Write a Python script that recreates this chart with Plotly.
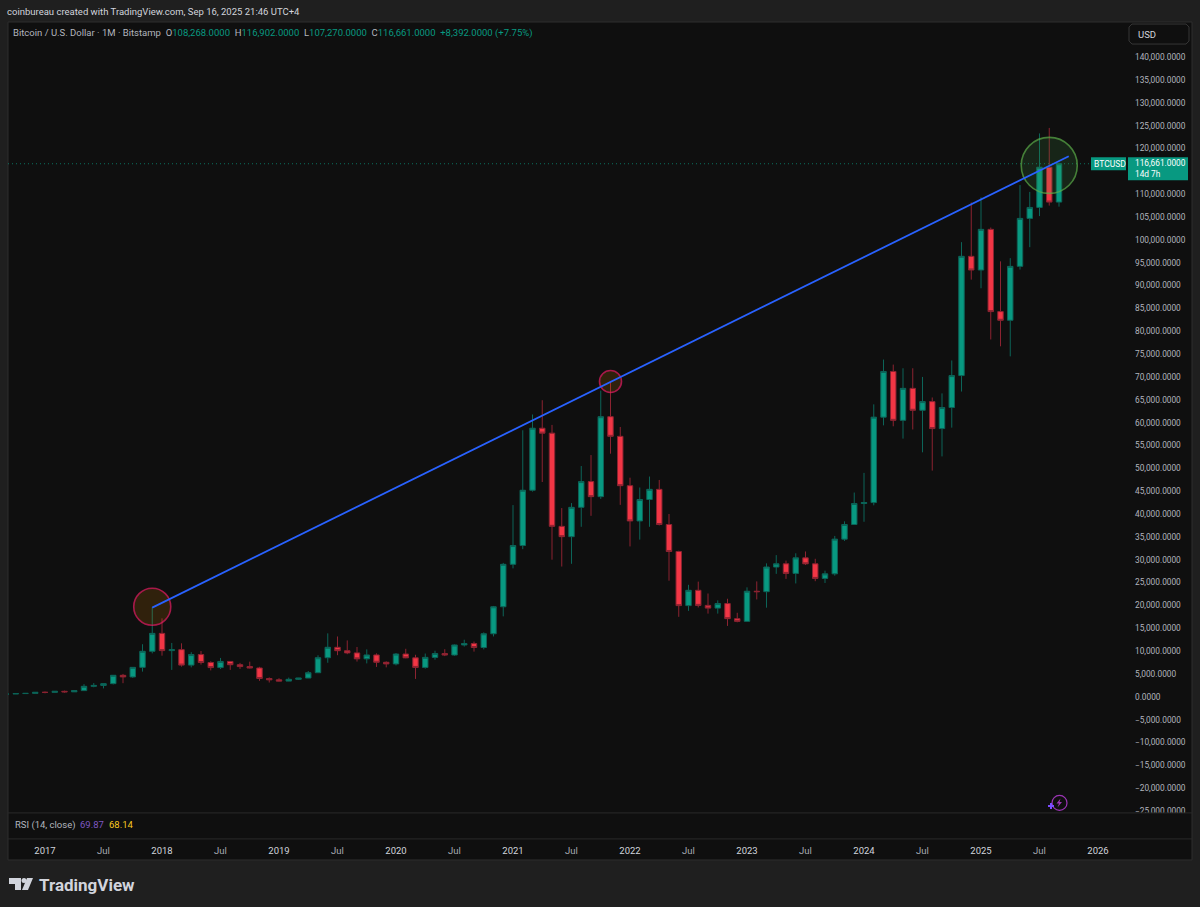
import plotly.graph_objects as go

# monthly candles, Sep 2016 .. Sep 2025
months = list(range(-4, 105))

opens = [572, 610, 700, 745, 966, 965, 1190, 1079, 1348, 2286, 2480, 2875, 4700, 4340, 6440, 9950,
         13880, 10100, 10310, 6925, 9240, 7500, 6390, 7730, 7010, 6610, 6300, 4000,
         3700, 3430, 3820, 4100, 5260, 8550, 10830, 10080, 9600, 8300, 9150, 7550,
         7190, 9350, 8520, 6420, 8620, 9450, 9140, 11340, 11650, 10780, 13790, 19700,
         28990, 33100, 45200, 58780, 57700, 37300, 35040, 41460, 47100, 43800, 61300, 57000,
         46200, 38480, 43170, 45400, 37700, 31800, 19950, 23300, 20000, 19400, 20400, 17100,
         16500, 23100, 23000, 28400, 29100, 27000, 30400, 29100, 25900, 26900, 34500, 37700,
         42300, 42500, 61200, 71200, 60500, 67500, 62700, 64600, 58700, 63300, 70300,
         96400, 93400, 102300, 84300, 82400, 94200, 104700, 107100, 115900, 108268]
highs = [620, 735, 755, 975, 1150, 1215, 1350, 1350, 2760, 3000, 2910, 4480, 5000, 6470, 11500, 19666,
         17170, 11780, 11700, 9760, 10020, 7770, 8500, 7750, 7410, 7680, 6550, 4230,
         4070, 4200, 4130, 5640, 9080, 13880, 13200, 12330, 10900, 10370, 9500, 7750,
         9580, 10500, 9190, 9460, 10080, 10400, 11450, 12480, 12080, 14100, 19880, 29300,
         41950, 58330, 61780, 64900, 59500, 41300, 42400, 50500, 52900, 67000, 69000, 59050,
         47950, 45800, 48200, 47450, 40000, 31970, 24500, 25200, 22600, 21100, 21450, 18380,
         23950, 25250, 29200, 31000, 29800, 31400, 31800, 30200, 27600, 35200, 38400, 44700,
         49000, 64000, 73800, 72700, 71900, 71900, 70000, 65500, 66400, 73600, 99500,
         108200, 109300, 102700, 95300, 96000, 112000, 110500, 123300, 124500, 116902]
lows = [570, 606, 680, 740, 752, 920, 891, 1060, 1348, 2076, 1830, 2700, 2970, 4110, 5500, 9500,
        9000, 5880, 6600, 6430, 7040, 5770, 6070, 5880, 6100, 6200, 3480, 3120,
        3350, 3400, 3670, 4100, 5340, 7440, 9100, 9320, 7710, 7300, 6530, 6430,
        6860, 8430, 3900, 6150, 8110, 8900, 8980, 10980, 9880, 10370, 13200, 17600,
        28100, 32300, 44900, 47000, 30000, 28500, 29100, 37200, 39600, 43300, 53200, 42000,
        32900, 34400, 37200, 37500, 25400, 17500, 18800, 19550, 18200, 18200, 15500, 16300,
        16400, 21300, 19500, 26900, 25800, 24800, 28850, 25300, 24900, 26500, 34100, 37600,
        38300, 41900, 59400, 59200, 56500, 58500, 53500, 49500, 52600, 58900, 66800,
        91300, 89400, 78200, 76700, 74500, 93500, 98400, 105200, 107500, 107270]
closes = [610, 700, 745, 966, 965, 1190, 1079, 1348, 2286, 2480, 2875, 4700, 4340, 6440, 9950, 13880,
          10100, 10310, 6925, 9240, 7500, 6390, 7730, 7010, 6610, 6300, 4000, 3700,
          3430, 3820, 4100, 5260, 8550, 10830, 10080, 9600, 8300, 9150, 7550, 7190,
          9350, 8520, 6420, 8620, 9450, 9140, 11340, 11650, 10780, 13790, 19700, 28990,
          33100, 45200, 58780, 57700, 37300, 35040, 41460, 47100, 43800, 61300, 57000, 46200,
          38480, 43170, 45400, 37700, 31800, 19950, 23300, 20000, 19400, 20400, 17100, 16500,
          23100, 23000, 28400, 29100, 27000, 30400, 29100, 25900, 26900, 34500, 37700, 42300,
          42500, 61200, 71200, 60500, 67500, 62700, 64600, 58700, 63300, 70300, 96400,
          93400, 102300, 84300, 82400, 94200, 104700, 107100, 115900, 108268, 116661]

trend_x = [11, 105]
trend_y = [19500, 118300]

circle_x = [11, 58, 103]
circle_y = [19700, 69000, 116300]
circle_size = [37, 22, 56]
circle_fill = ["rgba(255,152,0,0.2)", "rgba(255,152,0,0.2)", "rgba(76,175,80,0.2)"]
circle_line = ["#e91e63", "#e91e63", "#5cb04a"]

# 115,000 sits under the price tag in the reference, so it gets no label
price_ticks = [v for v in range(-25000, 145000, 5000) if v != 115000]
price_labels = [f"{v:,}.0000".replace("-", "\u2212") for v in price_ticks]

YEAR = "<span style='color:#d1d4dc'>{}</span>"
time_ticks = [0, 6, 12, 18, 24, 30, 36, 42, 48, 54, 60, 66, 72, 78, 84, 90, 96, 102, 108]
time_labels = [YEAR.format(2017), "Jul", YEAR.format(2018), "Jul", YEAR.format(2019), "Jul",
               YEAR.format(2020), "Jul", YEAR.format(2021), "Jul", YEAR.format(2022), "Jul",
               YEAR.format(2023), "Jul", YEAR.format(2024), "Jul", YEAR.format(2025), "Jul",
               YEAR.format(2026)]

W = 1200
H = 907
# the photographed page comes out a touch squeezed in height, so stretch the layout to suit
STRETCH = 1 / 0.9956
GREEN = "#089981"
RED = "#f23645"
TEXT = "#b2b5be"
FONT = "Roboto"


def px(x):
    return x / W


def py(y):
    return 1 - y * STRETCH / H


def rect(x0, y0, x1, y1, fill, line=None, layer="above"):
    return dict(type="rect", xref="paper", yref="paper", x0=px(x0), x1=px(x1), y0=py(y0), y1=py(y1),
                fillcolor=fill, line=dict(color=line or fill, width=1 if line else 0), layer=layer)


def poly(points, fill):
    path = "M " + " L ".join(f"{px(x):.5f},{py(y):.5f}" for x, y in points) + " Z"
    return dict(type="path", xref="paper", yref="paper", path=path, fillcolor=fill,
                line=dict(width=0), layer="above")


def label(x, y, text, size=9, color=TEXT, anchor="left"):
    return dict(xref="paper", yref="paper", x=px(x), y=py(y), text=text, showarrow=False, borderpad=0,
                xanchor=anchor, yanchor="middle", align=anchor, font=dict(family=FONT, size=size, color=color))


fig = go.Figure()

fig.add_trace(go.Candlestick(
    x=months, open=opens, high=highs, low=lows, close=closes,
    increasing=dict(line=dict(color="#0c6458", width=1), fillcolor=GREEN),
    decreasing=dict(line=dict(color="#8c2331", width=1), fillcolor=RED),
    showlegend=False,
))

fig.add_trace(go.Scatter(
    x=circle_x, y=circle_y, mode="markers", showlegend=False,
    marker=dict(size=circle_size, color=circle_fill, line=dict(color=circle_line, width=1.6)),
))

fig.add_trace(go.Scatter(
    x=trend_x, y=trend_y, mode="lines", showlegend=False,
    line=dict(color="#2962ff", width=1.8),
))

shapes = [
    # panes
    rect(8, 22, 1192, 859, "#0f0f0f", "#2e2e2e", layer="below"),
    rect(9, 812, 1191, 838, "#0f0f0f", None),
    dict(type="line", xref="paper", yref="paper", x0=px(8), x1=px(1192), y0=py(812), y1=py(812),
         line=dict(color="#2a2a2a", width=1), layer="above"),
    dict(type="line", xref="paper", yref="paper", x0=px(8), x1=px(1192), y0=py(838), y1=py(838),
         line=dict(color="#2a2a2a", width=1), layer="above"),
    # last price line
    dict(type="line", xref="paper", yref="y", x0=px(8), x1=px(1091), y0=closes[-1], y1=closes[-1],
         line=dict(color=GREEN, width=0.7, dash="1px,3px"), layer="below"),
    # price tags
    rect(1091, 157, 1126, 170, GREEN),
    rect(1128, 157, 1188, 180, GREEN),
    # USD button
    dict(type="path", xref="paper", yref="paper",
         path=(f"M {px(1132)},{py(24)} L {px(1186)},{py(24)} L {px(1189)},{py(27)} L {px(1189)},{py(41)} "
               f"L {px(1186)},{py(44)} L {px(1132)},{py(44)} L {px(1129)},{py(41)} L {px(1129)},{py(27)} Z"),
         line=dict(color="#363636", width=1), layer="above"),
    # lightning badge
    dict(type="circle", xref="paper", yref="paper", x0=px(1052), x1=px(1067), y0=py(794.5), y1=py(809.5),
         line=dict(color="#9c35b5", width=1.2), layer="above"),
    poly([(1060.5, 797.5), (1056.5, 802.5), (1059, 802.5), (1057.5, 806.5), (1062, 801), (1059.5, 801)], "#9c35b5"),
    poly([(1050, 802), (1052, 802), (1052, 804), (1054, 804), (1054, 806), (1052, 806), (1052, 808),
          (1050, 808), (1050, 806), (1048, 806), (1048, 804), (1050, 804)], "#7c4dff"),
    # TradingView mark
    poly([(9, 877), (21, 877), (21, 889), (15, 889), (15, 883), (9, 883)], "#d1d4dc"),
    dict(type="circle", xref="paper", yref="paper", x0=px(21.5), x1=px(26.5), y0=py(877), y1=py(882),
         fillcolor="#d1d4dc", line=dict(width=0), layer="above"),
    poly([(27, 877), (33, 877), (28, 889), (22, 889)], "#d1d4dc"),
]

ohlc = GREEN
legend = (
    f"Bitcoin / U.S. Dollar \u00b7 1M \u00b7 Bitstamp &nbsp;O<span style='color:{ohlc}'>108,268.0000</span> &nbsp;"
    f"H<span style='color:{ohlc}'>116,902.0000</span> &nbsp;L<span style='color:{ohlc}'>107,270.0000</span> &nbsp;"
    f"C<span style='color:{ohlc}'>116,661.0000</span> &nbsp;"
    f"<span style='color:{ohlc}'>+8,392.0000 (+7.75%)</span>"
)

annotations = [
    label(6, 11, "coinbureau created with TradingView.com, Sep 16, 2025 21:46 UTC+4", size=9.5, color="#d1d4dc"),
    label(12, 33, legend, size=9.5),
    label(1137, 34, "USD", size=9.5, color="#d1d4dc"),
    label(1093, 163.5, "BTCUSD", size=8.5, color="#ffffff"),
    label(1134, 162.5, "116,661.0000", size=8.3, color="#ffffff"),
    label(1134, 174, "14d 7h", size=8.3, color="#ffffff"),
    label(14, 824, "RSI (14, close)", size=9.5),
    label(79, 824, "69.87", size=9.5, color="#7e57c2"),
    label(108, 824, "68.14", size=9.5, color="#f9c920"),
    label(38, 884, "<b>TradingView</b>", size=17, color="#d1d4dc"),
]

fig.update_layout(
    width=W, height=H, autosize=False,
    margin=dict(l=0, r=0, t=0, b=0),
    paper_bgcolor="#1f1f1f", plot_bgcolor="rgba(0,0,0,0)",
    showlegend=False, boxgap=0.2,
    font=dict(family=FONT, size=9, color=TEXT),
    shapes=shapes, annotations=annotations,
    xaxis=dict(
        domain=[px(8), px(1129)], range=[-3.795, 111.18], rangeslider=dict(visible=False),
        tickmode="array", tickvals=time_ticks, ticktext=time_labels,
        showgrid=False, zeroline=False, showline=False, ticks="",
        ticklabelstandoff=31, tickangle=0, tickfont=dict(family=FONT, size=9.5, color="#a8abb3"),
    ),
    yaxis=dict(
        domain=[py(812), py(22)], range=[-25416, 147678], side="right",
        tickmode="array", tickvals=price_ticks, ticktext=price_labels,
        showgrid=False, zeroline=False, showline=False, ticks="",
        ticklabelstandoff=5, tickfont=dict(family=FONT, size=8.3, color=TEXT),
    ),
)

fig.write_html(
    "out.html",
    config={"displayModeBar": False},
    post_script="for (const el of [document.documentElement, document.body]) {"
                "el.style.margin='0';el.style.height='907px';el.style.overflow='hidden';"
                "el.style.background='#1f1f1f';}",
)
